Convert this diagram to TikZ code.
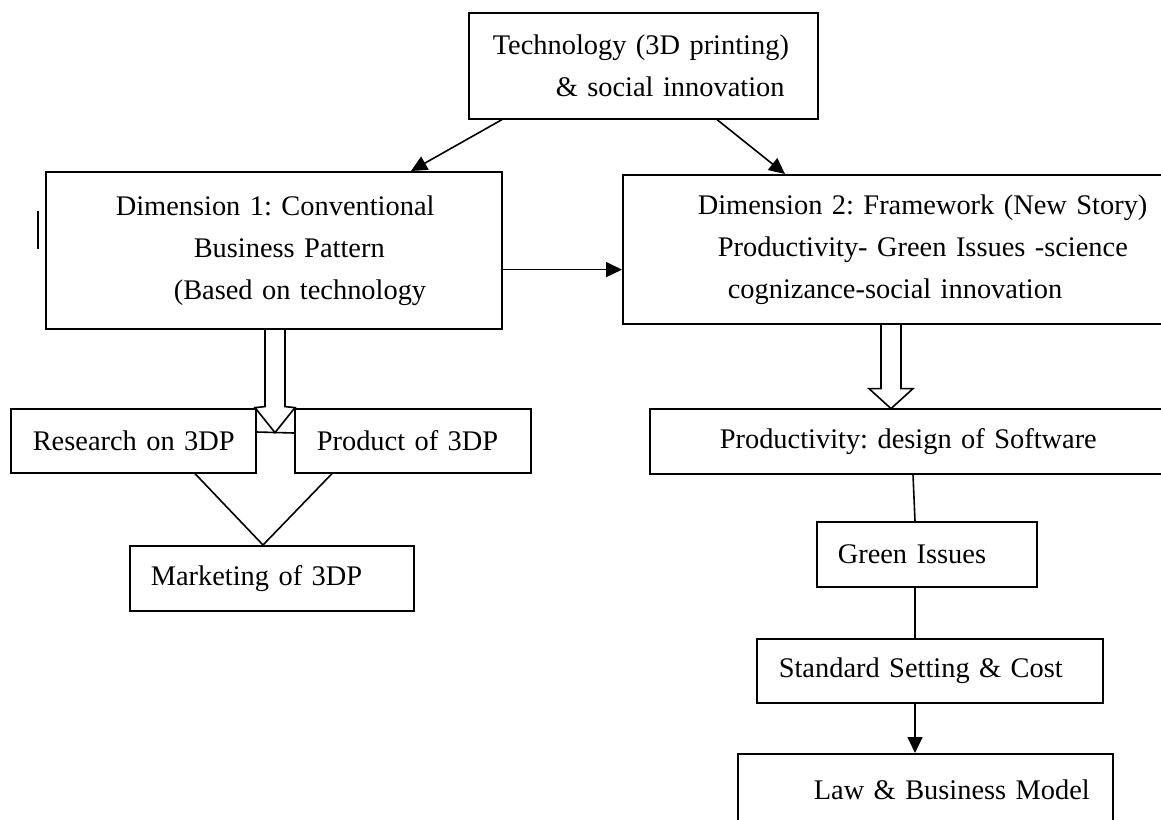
\documentclass[tikz,border=0pt]{standalone}
\usepackage{fontspec}
\setmainfont{Liberation Serif}
\usetikzlibrary{arrows.meta,calc}
\newcommand\boxfont{\fontsize{14.2}{21}\selectfont\frenchspacing}
\tikzset{
  box/.style={draw, line width=0.8pt, anchor=north west, inner xsep=0pt, inner ysep=0pt, align=left, font=\boxfont},
  link/.style={line width=0.8pt},
  arr/.style={line width=0.8pt, -{Triangle[length=8pt,width=7.5pt]}},
}
\begin{document}
\begin{tikzpicture}[x=0.5pt, y=-0.5pt]
\useasboundingbox (0,0) rectangle (1161,819);
\clip (0,0) rectangle (1161,819);

% top
\node[box, text width=174.5pt, minimum height=53pt] (tech) at (468,12)
  {\hspace*{12pt}Technology (3D printing)\\\hspace*{43.5pt}\& social innovation};

% two dimensions
\node[box, text width=228pt, minimum height=78.5pt] (dim1) at (45,171)
  {\hspace*{35pt}Dimension 1: Conventional\\\hspace*{74pt}Business Pattern\\\hspace*{64pt}(Based on technology};
\node[box, text width=274pt, minimum height=74.5pt] (dim2) at (622,174)
  {\hspace*{37.5pt}Dimension 2: Framework (New Story)\\\hspace*{47.5pt}Productivity- Green Issues -science\\\hspace*{52.5pt}cognizance-social innovation};

% left branch
\node[box, text width=122.5pt, minimum height=32pt] (research) at (10,408) {\hspace*{11pt}Research on 3DP};
\node[box, text width=118pt, minimum height=32pt] (product) at (294,408) {\hspace*{11pt}Product of 3DP};
\node[box, text width=142pt, minimum height=32.5pt] (market) at (129,545) {\hspace*{10.5pt}Marketing of 3DP};

% right branch
\node[box, text width=260.5pt, minimum height=32.5pt] (software) at (649,408) {\hspace*{35pt}Productivity: design of Software};
\node[box, text width=110pt, minimum height=32.5pt] (green) at (816,521) {\hspace*{10.5pt}Green Issues};
\node[box, text width=173pt, minimum height=32pt] (standard) at (756,638) {\hspace*{11pt}Standard Setting \& Cost};
\node[box, text width=187.5pt, minimum height=36pt] (law) at (737,753) {\hspace*{38pt}Law \& Business Model};

% arrows
\draw[arr] ($(tech.south west)+(34,0)$) -- ($(dim1.north west)+(366,0)$);
\draw[arr] ($(tech.south west)+(249,0)$) -- ($(dim2.north west)+(163,0)$);
\coordinate (d1out) at ($(dim1.south east)+(0,-60)$);
\draw[arr] (d1out) -- (d1out -| dim2.west);

% hollow arrows
\draw[link] ($(dim1.south west)+(220,0)$) -- ++(0,77) -- ++(-10,1) -- ++(20,25) -- ++(20,-25) -- ++(-10,-1) -- ++(0,-77);
\draw[link] ($(research.north east)+(0,24)$) -- ($(product.north west)+(0,25)$);
\draw[link] ($(dim2.south west)+(259,0)$) -- ++(0,64) -- ++(-12,0) -- ++(22,20) -- ++(22,-20) -- ++(-12,0) -- ++(0,-64);

\draw[link] ($(research.south west)+(185,0)$) -- ($(market.north west)+(134,0)$);
\draw[link] ($(product.south west)+(38,0)$) -- ($(market.north west)+(134,0)$);

\draw[link] ($(software.south west)+(264,0)$) -- ($(green.north west)+(99,0)$);
\draw[link] ($(green.south west)+(99,0)$) -- ($(standard.north west)+(159,0)$);
\draw[arr] ($(standard.south west)+(159,0)$) -- ($(law.north west)+(178,0)$);

%\draw stray mark
\draw[link] ($(dim1.north west)+(-7,40)$) -- ++(0,38);
\end{tikzpicture}
\end{document}
